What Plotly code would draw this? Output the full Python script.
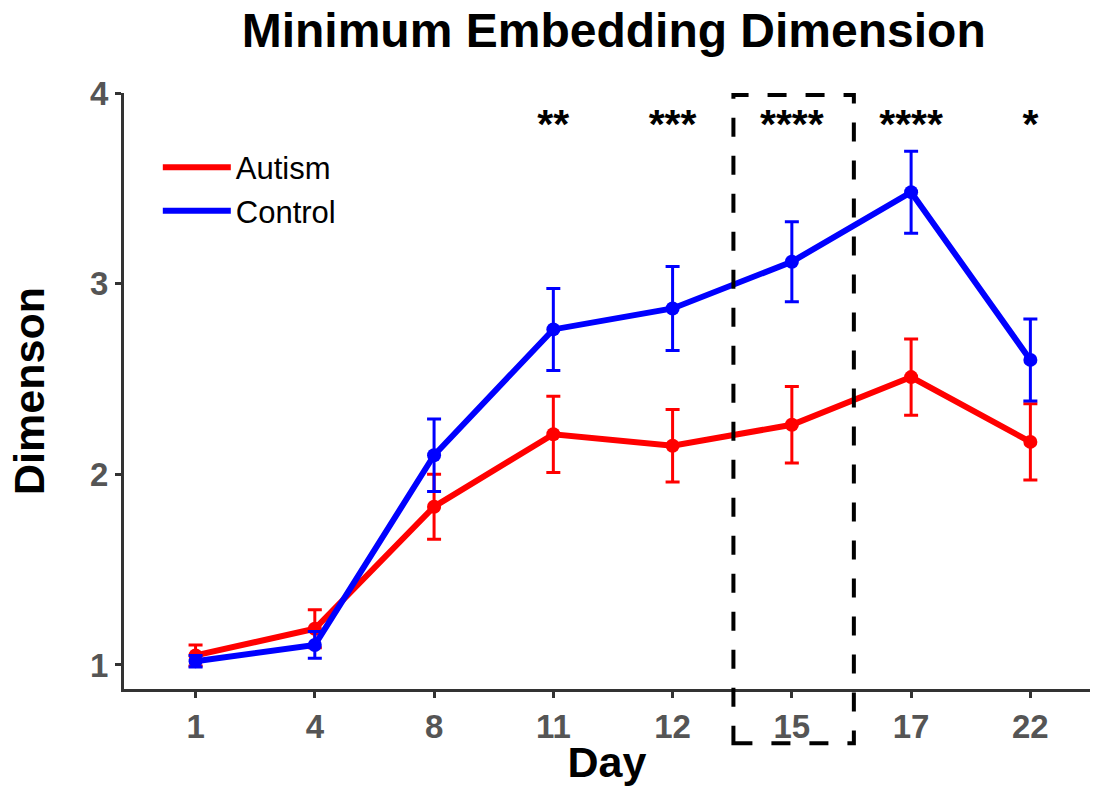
import plotly.graph_objects as go

days = ["1", "4", "8", "11", "12", "15", "17", "22"]
autism = [1.05, 1.19, 1.83, 2.21, 2.15, 2.26, 2.51, 2.17]
autism_err = [0.055, 0.10, 0.17, 0.20, 0.19, 0.20, 0.20, 0.20]
control = [1.02, 1.105, 2.10, 2.76, 2.87, 3.115, 3.48, 2.60]
control_err = [0.03, 0.07, 0.19, 0.215, 0.22, 0.21, 0.215, 0.215]
sig_days = ["11", "12", "15", "17", "22"]
sig_labels = ["**", "***", "****", "****", "*"]
sig_y = 3.82

RED = "#ff0000"
BLUE = "#0000ff"
FONT = "Liberation Sans, Arial, Helvetica, sans-serif"

fig = go.Figure()
for name, vals, errs, col in [("Autism", autism, autism_err, RED), ("Control", control, control_err, BLUE)]:
    fig.add_trace(go.Scatter(
        x=days, y=vals, mode="lines+markers", name=name, showlegend=False,
        line=dict(color=col, width=6), marker=dict(color=col, size=14),
        error_y=dict(type="data", array=errs, color=col, thickness=3, width=7),
    ))
for name, col in [("Autism", RED), ("Control", BLUE)]:
    fig.add_trace(go.Scatter(x=[None], y=[None], mode="lines", name=name,
                             line=dict(color=col, width=6)))

fig.add_trace(go.Scatter(
    x=sig_days, y=[sig_y] * len(sig_days), mode="text", text=sig_labels,
    textfont=dict(family=FONT, size=41, color="black", weight="bold"), showlegend=False,
    cliponaxis=False, textposition="middle center",
))

xr = [-0.6, 7.5]
yr = [0.874, 4.0]
def px(i):
    return (i - xr[0]) / (xr[1] - xr[0])
def py(v):
    return (v - yr[0]) / (yr[1] - yr[0])

i15 = days.index("15")
fig.add_shape(type="rect", xref="paper", yref="paper",
              x0=px(i15 - 0.49), x1=px(i15 + 0.52), y0=py(0.59), y1=py(3.99),
              line=dict(color="black", width=4, dash="19px,19px"), fillcolor="rgba(0,0,0,0)")

axis_common = dict(showgrid=False, zeroline=False, showline=True, linecolor="#333333",
                   linewidth=3, ticks="outside", ticklen=6, tickwidth=3, tickcolor="#333333",
                   tickfont=dict(family=FONT, size=33, color="#555555", weight="bold"))

fig.update_layout(
    width=1094, height=786,
    margin=dict(l=124, r=4, t=93, b=97),
    paper_bgcolor="white", plot_bgcolor="white",
    title=dict(text="<b>Minimum Embedding Dimension</b>", x=0.561, xanchor="center",
               y=0.962, yanchor="middle",
               font=dict(family=FONT, size=48, color="black")),
    xaxis=dict(range=xr, type="category",
               title=dict(text="<b>Day</b>", standoff=6,
               font=dict(family=FONT, size=43, color="black")), **axis_common),
    yaxis=dict(range=yr, tickvals=[1, 2, 3, 4], title=dict(text="<b>Dimenson</b>", standoff=32,
               font=dict(family=FONT, size=43, color="black")), **axis_common),
    legend=dict(x=0.035, y=0.92, xanchor="left", yanchor="top", bgcolor="rgba(0,0,0,0)",
                font=dict(family=FONT, size=31, color="black"), itemwidth=68,
                tracegroupgap=0),
)
fig.write_html("out.html")
